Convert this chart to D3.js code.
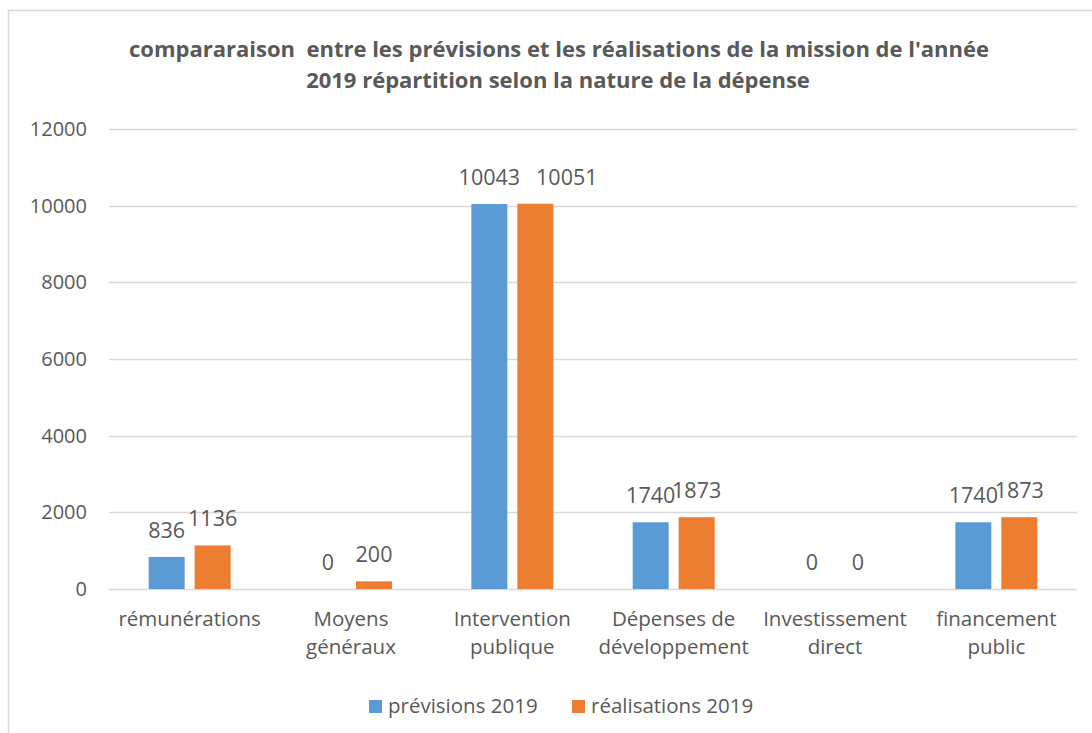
<!DOCTYPE html>
<html lang="fr">
<head>
<meta charset="UTF-8">
<title>prévisions et réalisations 2019</title>
<style>
  body { margin: 0; background: #fff; }
  text { font-family: "Open Sans", sans-serif; fill: #595959; }
  .title { font-weight: bold; font-size: 22px; text-anchor: middle; white-space: pre; }
  .tick-lbl { font-size: 20px; }
  .val { font-size: 21.5px; text-anchor: middle; }
  .cat { font-size: 20.5px; text-anchor: middle; }
  .leg { font-size: 20.5px; }
</style>
<script src="https://d3js.org/d3.v7.min.js"></script>
</head>
<body>
<script>
// categories (axis labels, split into lines)
var categories = ["rémunérations", "Moyens généraux", "Intervention publique",
                  "Dépenses de développement", "Investissement direct", "financement public"];
var catLines = [["rémunérations"], ["Moyens", "généraux"], ["Intervention", "publique"],
                ["Dépenses de", "développement"], ["Investissement", "direct"], ["financement", "public"]];
var seriesNames = ["prévisions 2019", "réalisations 2019"];
var previsions = [836, 0, 10043, 1740, 0, 1740];
var realisations = [1136, 200, 10051, 1873, 0, 1873];
var yTicks = [0, 2000, 4000, 6000, 8000, 10000, 12000];
var colors = ["#5B9BD5", "#ED7D31"];

const w = 1092, h = 733;
const plotL = 109, plotR = 1077, plotT = 129, plotB = 589;

const svg = d3.select("body").append("svg")
    .attr("width", w).attr("height", h);

// chart frame
svg.append("rect")
   .attr("x", 8.5).attr("y", 10.5)
   .attr("width", w + 20).attr("height", h + 20)
   .attr("fill", "none").attr("stroke", "#d9d9d9").attr("stroke-width", 1.5);

// title
svg.append("text").attr("class", "title").attr("x", 559).attr("y", 57)
   .text("compararaison  entre les prévisions et les réalisations de la mission de l'année");
svg.append("text").attr("class", "title").attr("x", 558).attr("y", 88)
   .text("2019 répartition selon la nature de la dépense");

var y = d3.scaleLinear().domain([0, 12000]).range([plotB, plotT]);
var x0 = d3.scaleBand().domain(categories).range([plotL, plotR]);
var groupW = 82;
var x1 = d3.scaleBand().domain(seriesNames).range([0, groupW]).paddingInner(0.217);

// grid
svg.append("g").selectAll("line").data(yTicks).enter().append("line")
   .attr("x1", plotL).attr("x2", plotR)
   .attr("y1", d => Math.round(y(d)) + 0.5).attr("y2", d => Math.round(y(d)) + 0.5)
   .attr("stroke", "#d9d9d9").attr("stroke-width", 1.5);

// y axis labels
var yAxis = d3.axisLeft(y).tickValues(yTicks).tickSize(0).tickPadding(0).tickFormat(d3.format("d"));
var ga = svg.append("g").attr("transform", "translate(87,0)").call(yAxis);
ga.select(".domain").remove();
ga.attr("font-family", null).attr("font-size", null);
ga.selectAll("text").attr("class", "tick-lbl").attr("fill", null);

var data = categories.map((c, i) => ({cat: c, vals: [previsions[i], realisations[i]]}));

var groups = svg.append("g").selectAll("g").data(data).enter().append("g")
   .attr("transform", d => "translate(" + (x0(d.cat) + (x0.bandwidth() - groupW) / 2) + ",0)");

groups.selectAll("rect").data(d => d.vals.map((v, k) => ({s: seriesNames[k], v: v, k: k})))
   .enter().append("rect")
   .attr("x", d => x1(d.s))
   .attr("y", d => y(d.v))
   .attr("width", x1.bandwidth())
   .attr("height", d => y(0) - y(d.v))
   .attr("fill", d => colors[d.k]);

// value labels; when two labels sit at the same height and collide,
// the second one is pushed to the right (as the source chart does)
groups.each(function (d) {
  var g = d3.select(this);
  var labels = d.vals.map((v, k) => g.append("text").attr("class", "val")
      .attr("x", x1(seriesNames[k]) + x1.bandwidth() / 2)
      .attr("y", y(v) - 19)
      .text(v));
  var a = labels[0].node().getBBox(), b = labels[1].node().getBBox();
  if (Math.abs(a.y - b.y) < 2 && a.x + a.width > b.x) {
    labels[1].attr("dx", a.x + a.width + 16 - b.x);
  }
});

// category labels
var cats = svg.append("g").selectAll("text").data(categories).enter().append("text")
   .attr("class", "cat")
   .attr("x", d => x0(d) + x0.bandwidth() / 2)
   .attr("y", 626);
cats.selectAll("tspan").data((d, i) => catLines[i]).enter().append("tspan")
   .attr("x", function () { return this.parentNode.getAttribute("x"); })
   .attr("dy", (d, i) => i === 0 ? 0 : 28)
   .text(d => d);

// legend
var legX = [369, 572];
var leg = svg.append("g").selectAll("g").data(seriesNames).enter().append("g")
   .attr("transform", (d, i) => "translate(" + legX[i] + ",700)");
leg.append("rect").attr("width", 13).attr("height", 13).attr("fill", (d, i) => colors[i]);
leg.append("text").attr("class", "leg").attr("x", 19).attr("y", 13).text(d => d);
</script>
</body>
</html>
